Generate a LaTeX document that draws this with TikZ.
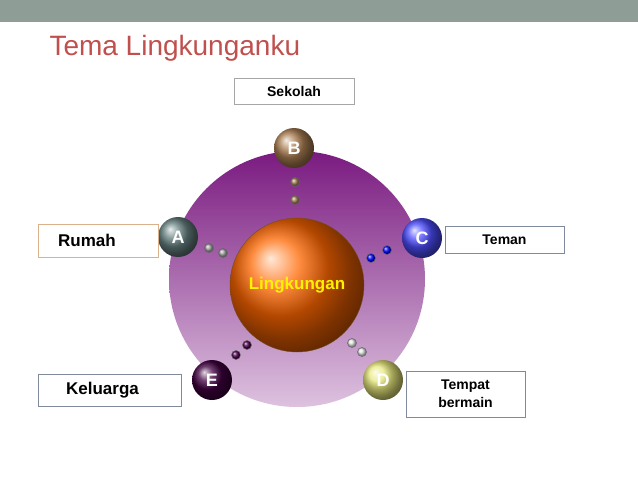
\documentclass[tikz,border=0pt]{standalone}
\usepackage{fontspec}
\setmainfont{Liberation Sans}
\definecolor{bar}{HTML}{8E9E96}
\definecolor{ttl}{HTML}{C0504D}
\definecolor{ptop}{HTML}{7A1A80}
\definecolor{pbot}{HTML}{DDC2DF}
\definecolor{bx}{HTML}{7F8A9C}
\begin{document}
\begin{tikzpicture}[x=1pt,y=-1pt,
  lbl/.style={draw=#1,line width=0.8pt,fill=white,font=\bfseries\fontsize{17}{19}\selectfont,align=center,inner sep=0pt},
  small/.style={font=\bfseries\fontsize{14}{18}\selectfont},
  ball/.style={circle,minimum size=40pt,ball color=#1,text=white,font=\bfseries\fontsize{18}{18}\selectfont},
  dot/.style={circle,minimum size=9pt,inner sep=0pt,ball color=#1,draw=black!60,line width=0.5pt}]
\useasboundingbox (0,0) rectangle (638,479);
\fill[white] (0,0) rectangle (638,479);
\fill[bar] (0,0) rectangle (638,22);
\node[anchor=west,text=ttl,font=\fontsize{28}{30}\selectfont] (title) at (46,48) {Tema Lingkunganku};
\shade[top color=ptop,bottom color=pbot] (297,279) circle (128);
\node[circle,draw=brown!60!black,minimum size=134pt,ball color=orange!80!red,text=yellow,font=\bfseries\fontsize{17}{17}\selectfont] (L) at (297,285) {Lingkungan};
\node[ball=brown!70!gray] (B) at (294,148) {B};
\node[ball=gray!80!teal] (A) at (178,237) {A};
\node[ball=blue!70] (C) at (422,238) {C};
\node[ball=gray!30!yellow!60] (D) at (383,380) {D};
\node[ball=violet!50!black] (E) at (212,380) {E};
\node[dot=brown!60!gray] (b1) at (295,182) {}; \node[dot=brown!60!gray] (b2) at (295,200) {};
\node[dot=gray!70] (a1) at (209,248) {}; \node[dot=gray!70] (a2) at (223,253) {};
\node[dot=blue] (c1) at (371,258) {}; \node[dot=blue] (c2) at (387,250) {};
\node[dot=gray!20] (d1) at (352,343) {}; \node[dot=gray!20] (d2) at (362,352) {};
\node[dot=violet!60!black] (e1) at (236,355) {}; \node[dot=violet!60!black] (e2) at (247,345) {};
\node[lbl=gray!70,small,minimum width=120pt,minimum height=26pt] (s) at (294,91) {Sekolah};
\node[lbl=brown!60,minimum width=120pt,minimum height=33pt] (r) at (98,240.5) {Rumah\hspace{22pt}};
\node[lbl=bx,small,minimum width=119pt,minimum height=27pt] (t) at (504.5,239.5) {Teman};
\node[lbl=bx,minimum width=143pt,minimum height=32pt] (k) at (109.5,390) {Keluarga\hspace{14pt}};
\node[lbl=bx,small,minimum width=119pt,minimum height=46pt] (tb) at (465.5,394) {Tempat\\bermain};
\end{tikzpicture}
\end{document}
